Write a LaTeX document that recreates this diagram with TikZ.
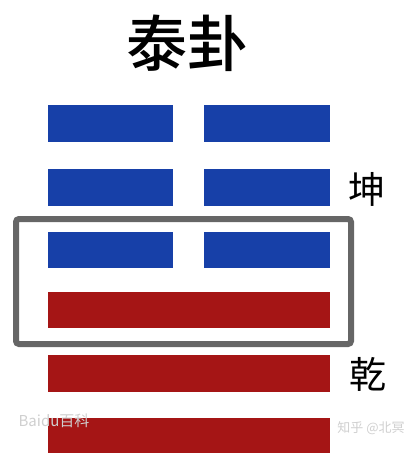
\documentclass[tikz,border=0pt]{standalone}
\usepackage{fontspec}
\usepackage{xcolor}
\newfontfamily\cjk{Noto Sans CJK SC}
\newfontfamily\cjkbold{Noto Sans CJK SC Medium}
\definecolor{Blue}{HTML}{1740A8}
\definecolor{Red}{HTML}{A51515}
\definecolor{Frame}{HTML}{666666}
\definecolor{Mark}{HTML}{CFCFCF}

\begin{document}
\begin{tikzpicture}[x=1pt,y=-1pt]
        \useasboundingbox (0,0) rectangle (407,453);
        \node[font=\cjkbold\fontsize{61}{61}\selectfont] (title) at (187,43) {泰卦};
        % yin lines (kun)
        \foreach \top/\bot in {105/142,169/206,232/268} {
          \fill[Blue] (48,\top) rectangle (173,\bot);
          \fill[Blue] (204,\top) rectangle (330,\bot);
        }
        % yang lines (qian)
        \foreach \top/\bot in {292/328,355/392,418/453}
          \fill[Red] (48,\top) rectangle (330,\bot);
        \draw[Frame, line width=6pt, rounded corners=3pt] (16,219) rectangle (351,344);
        \node[font=\cjk\fontsize{37}{37}\selectfont] (kun) at (367,189) {坤};
        \node[font=\cjk\fontsize{37}{37}\selectfont] (qian) at (368,374) {乾};
        \node[Mark, font=\cjk\fontsize{15}{15}\selectfont] (baike) at (54,421) {Baidu百科};
        \node[Mark, font=\cjk\fontsize{13}{13}\selectfont] (zhihu) at (371,428) {知乎 @北冥};
      \end{tikzpicture}
\end{document}
